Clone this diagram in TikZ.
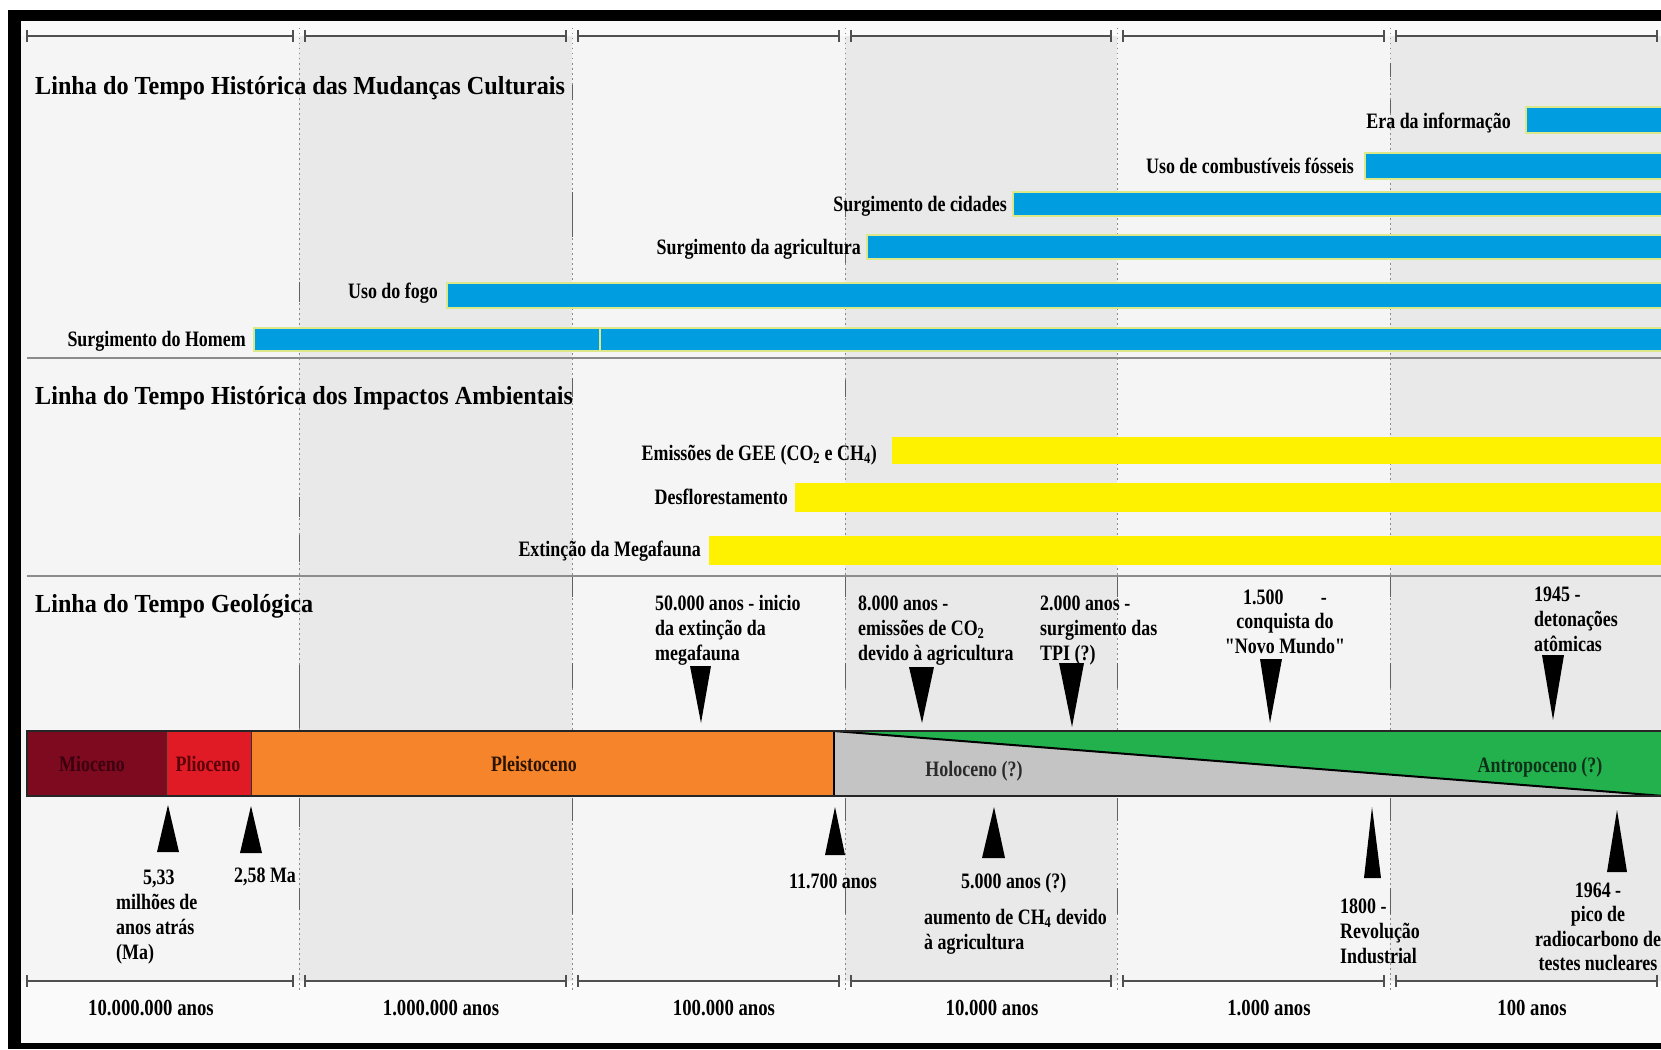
\documentclass[tikz,border=0pt]{standalone}
\usepackage{fontspec}
\setmainfont{Liberation Serif}
\newfontfamily\narrowfont{Liberation Serif}[FakeStretch=0.815]
\newfontfamily\titlefont{Liberation Serif}[FakeStretch=0.93]
\definecolor{colL}{HTML}{F5F5F5}
\definecolor{colD}{HTML}{E9E9E9}
\definecolor{outer}{HTML}{FAFAFA}
\definecolor{barblue}{HTML}{009EE0}
\definecolor{baredge}{HTML}{DCE88A}
\definecolor{baryel}{HTML}{FFF200}
\definecolor{mio}{HTML}{7D0A1E}
\definecolor{plio}{HTML}{E11B26}
\definecolor{pleis}{HTML}{F6842A}
\definecolor{holo}{HTML}{C4C4C4}
\definecolor{antro}{HTML}{23B14D}
\definecolor{miotext}{HTML}{3C0010}
\definecolor{pliotext}{HTML}{5A0008}
\definecolor{pleistext}{HTML}{2A1400}
\definecolor{holotext}{HTML}{2A2A2A}
\definecolor{antrotext}{HTML}{0F3018}
\definecolor{scalegray}{HTML}{505050}
\definecolor{gridgray}{HTML}{8A8A8A}
\definecolor{divgray}{HTML}{8C8C8C}
\begin{document}
\begin{tikzpicture}[x=1pt,y=-1pt,
  title/.style={anchor=base west,inner sep=0pt,font=\titlefont\fontsize{26}{30}\selectfont\bfseries},
  lab/.style={anchor=base east,inner sep=0pt,font=\narrowfont\fontsize{22}{25}\selectfont\bfseries},
  note/.style={anchor=base west,inner sep=0pt,align=flush left,font=\narrowfont\fontsize{22}{25}\selectfont\bfseries},
  cnote/.style={anchor=base,inner sep=0pt,align=flush center,font=\narrowfont\fontsize{22}{24.5}\selectfont\bfseries},
  scalelab/.style={anchor=base,inner sep=0pt,font=\narrowfont\fontsize{23}{26}\selectfont\bfseries},
  eralab/.style={anchor=base,inner sep=0pt,font=\narrowfont\fontsize{22}{25}\selectfont\bfseries},
  bluebar/.style={fill=barblue,draw=baredge,line width=1.5pt},
  yelbar/.style={fill=baryel},
  wedge/.style={fill=black},
  scaleline/.style={draw=scalegray,line width=2pt},
  tick/.style={draw=scalegray,line width=1.6pt},
  gridline/.style={draw=gridgray,line width=0.8pt,dash pattern=on 1.5pt off 3.5pt},
  gridsolid/.style={draw=gridgray!70!black,line width=1pt},
  divider/.style={draw=divgray,line width=2pt}
]
\useasboundingbox (0,0) rectangle (1661,1049);
\clip (0,0) rectangle (1661,1049);
% backgrounds
\fill[white] (0,0) rectangle (1661,1049);
\fill[outer] (21,21) rectangle (1661,1043);
\fill[colL] (21,36) rectangle (299,981);
\fill[colD] (299,36) rectangle (572,981);
\fill[colL] (572,36) rectangle (845,981);
\fill[colD] (845,36) rectangle (1117,981);
\fill[colL] (1117,36) rectangle (1390,981);
\fill[colD] (1390,36) rectangle (1661,981);
% frame
\fill[black] (8,10) rectangle (1661,21);
\fill[black] (8,10) rectangle (21,1049);
\fill[black] (8,1043) rectangle (1661,1049);
% grid
\foreach \x in {299,572,845,1117,1390}
  \draw[gridline] (\x,28) -- (\x,990);
\foreach \x/\ya/\yb in {572/85/100, 572/192/237, 299/282/302, 845/200/217, 845/242/263,
    1390/63/77, 1390/100/113, 572/378/397, 845/380/397, 299/497/517, 299/535/562,
    299/665/728, 299/798/827, 299/888/910}
  \draw[gridsolid] (\x,\ya) -- (\x,\yb);
\foreach \x in {572,845,1117,1390}
  \foreach \ya/\yb in {577/597, 663/688, 798/821, 888/914}
    \draw[gridsolid] (\x,\ya) -- (\x,\yb);
% scales
\foreach \a/\b in {27/293, 305/566, 578/839, 851/1111, 1123/1384, 1396/1657}
  \foreach \y in {36,981} {
    \draw[scaleline] (\a,\y) -- (\b,\y);
    \draw[tick] (\a,\y-6) -- (\a,\y+6);
    \draw[tick] (\b,\y-6) -- (\b,\y+6);
  }
% dividers
\draw[divider] (27,358) -- (1661,358);
\draw[divider] (27,576) -- (1661,576);
% titles
\node[title] (t1) at (35,94) {Linha do Tempo Histórica das Mudanças Culturais};
\node[title] (t2) at (35,404) {Linha do Tempo Histórica dos Impactos Ambientais};
\node[title] (t3) at (35,612) {Linha do Tempo Geológica};
% cultural bars
\filldraw[bluebar] (1526,107) rectangle (1670,133);
\filldraw[bluebar] (1365,153) rectangle (1670,179);
\filldraw[bluebar] (1013,192) rectangle (1670,216);
\filldraw[bluebar] (867,235) rectangle (1670,259);
\filldraw[bluebar] (447,283) rectangle (1670,308);
\filldraw[bluebar] (254,328) rectangle (600,351);
\filldraw[bluebar] (600,328) rectangle (1670,351);
\node[lab] (era) at (1511,128) {Era da informação};
\node[lab] (comb) at (1354,173) {Uso de combustíveis fósseis};
\node[lab] (cid) at (1007,211) {Surgimento de cidades};
\node[lab] (agr) at (861,254) {Surgimento da agricultura};
\node[lab] (fogo) at (438,298) {Uso do fogo};
\node[lab] (hom) at (246,346) {Surgimento do Homem};
% impact bars
\fill[yelbar] (892,437) rectangle (1670,464);
\fill[yelbar] (795,483) rectangle (1670,512);
\fill[yelbar] (709,536) rectangle (1670,565);
\node[lab] (gee) at (877,460) {Emissões de GEE (CO\textsubscript{2} e CH\textsubscript{4})};
\node[lab] (desf) at (788,504) {Desflorestamento};
\node[lab] (ext) at (701,556) {Extinção da Megafauna};
% geological bar
\fill[mio] (27,731) rectangle (166,796);
\fill[plio] (166,731) rectangle (251,796);
\fill[pleis] (251,731) rectangle (834,796);
\fill[holo] (834,731) rectangle (1670,796);
\fill[antro] (834,731) -- (1670,731) -- (1670,796.5) -- cycle;
\draw[black,line width=2pt] (834,731) -- (1670,796.5);
\draw[black!80,line width=0.8pt] (166,731) -- (166,796) (251,731) -- (251,796);
\draw[black,line width=1.2pt] (834,731) -- (834,796);
\draw[black!85,line width=1.2pt] (1670,731) -- (27,731) -- (27,796) -- (1670,796);
\node[eralab,text=miotext] (mioc) at (92,771) {Mioceno};
\node[eralab,text=pliotext] (plioc) at (208,771) {Plioceno};
\node[eralab,text=pleistext] (pleisc) at (534,771) {Pleistoceno};
\node[eralab,text=holotext] (holoc) at (974,776) {Holoceno (?)};
\node[eralab,text=antrotext] (antroc) at (1540,772) {Antropoceno (?)};
% down wedges
\fill[wedge] (690,666) -- (711,666) -- (701,723) -- cycle;
\fill[wedge] (909,667) -- (934,667) -- (922,723) -- cycle;
\fill[wedge] (1059,663) -- (1084,663) -- (1072,727) -- cycle;
\fill[wedge] (1260,659) -- (1282,659) -- (1270,723) -- cycle;
\fill[wedge] (1542,655) -- (1564,655) -- (1553,720) -- cycle;
% up wedges
\fill[wedge] (157,852) -- (179,852) -- (168,805) -- cycle;
\fill[wedge] (240,853) -- (262,853) -- (251,806) -- cycle;
\fill[wedge] (825,855) -- (845,855) -- (835,807) -- cycle;
\fill[wedge] (982,858) -- (1005,858) -- (994,807) -- cycle;
\fill[wedge] (1364,878) -- (1381,878) -- (1372,807) -- cycle;
\fill[wedge] (1607,872) -- (1627,872) -- (1617,810) -- cycle;
% notes above
\node[note,text width=175pt] (n50k) at (655,610) {50.000 anos - inicio\\da extinção da\\megafauna};
\node[note,text width=185pt] (n8k) at (858,610) {8.000 anos -\\emissões de CO\textsubscript{2}\\devido à agricultura};
\node[note,text width=140pt] (n2k) at (1040,610) {2.000 anos -\\surgimento das\\TPI (?)};
\node[cnote,text width=140pt] (n1500) at (1285,604) {1.500\hspace{1.7em}-\\conquista do\\"Novo Mundo"};
\node[note,text width=120pt] (n1945) at (1534,601) {1945 -\\detonações\\atômicas};
% notes below
\node[note,text width=110pt] (n533) at (116,884) {\hspace*{27pt}5,33\\milhões de\\anos atrás\\(Ma)};
\node[note] (n258) at (234,882) {2,58 Ma};
\node[note] (n11700) at (789,888) {11.700 anos};
\node[note] (n5000) at (961,888) {5.000 anos (?)};
\node[note,text width=200pt] (nch4) at (924,924) {aumento de CH\textsubscript{4} devido\\à agricultura};
\node[note,text width=100pt] (n1800) at (1340,913) {1800 -\\Revolução\\Industrial};
\node[cnote,text width=140pt] (n1964) at (1598,897) {1964 -\\pico de\\radiocarbono de\\testes nucleares};
% scale labels
\node[scalelab] (s1) at (151,1015) {10.000.000 anos};
\node[scalelab] (s2) at (441,1015) {1.000.000 anos};
\node[scalelab] (s3) at (724,1015) {100.000 anos};
\node[scalelab] (s4) at (992,1015) {10.000 anos};
\node[scalelab] (s5) at (1269,1015) {1.000 anos};
\node[scalelab] (s6) at (1532,1015) {100 anos};
\end{tikzpicture}
\end{document}
